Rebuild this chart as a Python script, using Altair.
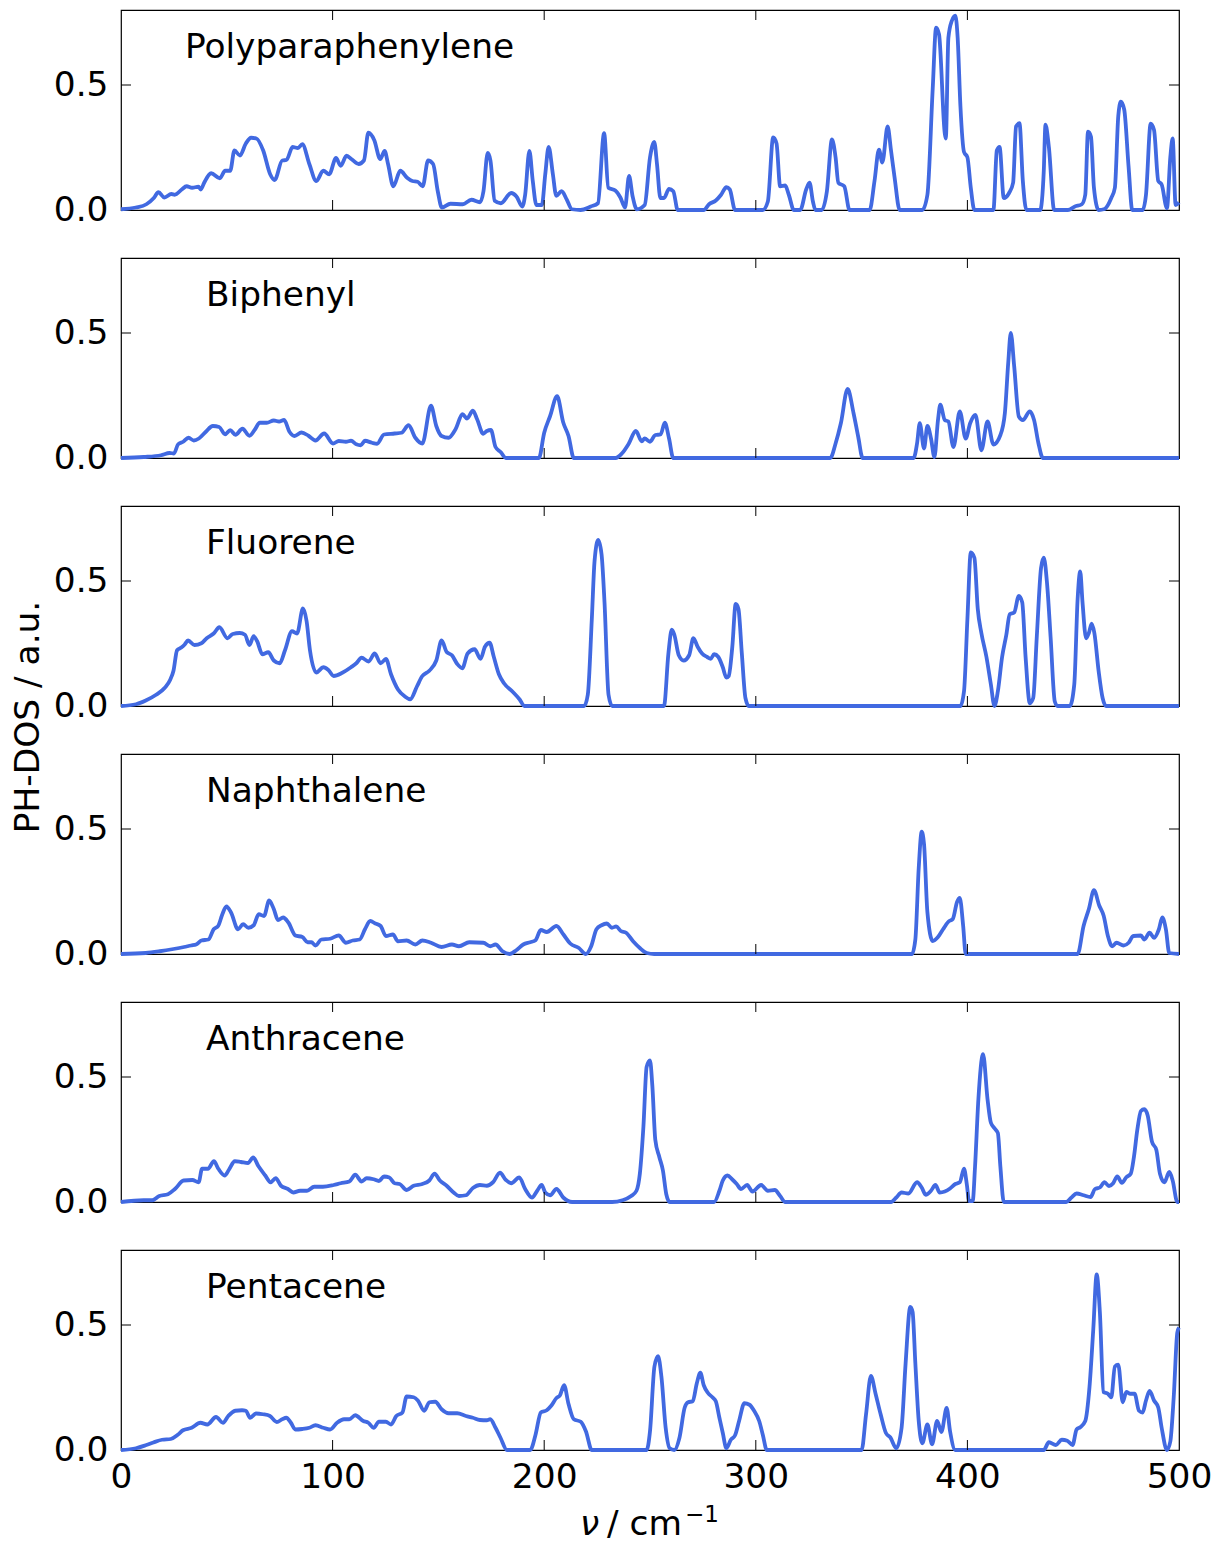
import altair as alt
import pandas as pd

# ---- data: (wavenumber, PH-DOS) ----
PPP = [(0,0.003),(7,0.01),(12,0.023),(15.5,0.048),(17.7,0.071),(20.5,0.05),(23.8,0.064),(25.4,0.061),
       (28.7,0.082),(31,0.095),(33.6,0.089),(36.6,0.093),(37.7,0.082),(39.3,0.109),(42.6,0.147),(46.7,0.127),
       (49.2,0.157),(51.6,0.157),(53.6,0.238),(56.2,0.218),(59,0.266),(61.5,0.289),(64,0.286),(67.2,0.238),
       (70.5,0.143),(72.6,0.12),(76.2,0.198),(78.2,0.2),(81.1,0.252),(83.6,0.248),(85.7,0.263),(89,0.184),
       (92.3,0.116),(95.6,0.157),(98.4,0.143),(101.6,0.208),(103.8,0.177),(106.6,0.217),(109,0.203),(112.3,0.184),
       (114.8,0.198),(116.9,0.309),(119.7,0.279),(122.5,0.204),(124.6,0.236),(126.2,0.184),(128.7,0.095),(132,0.157),
       (135.2,0.129),(137.7,0.116),(140.2,0.113),(142.6,0.095),(145.1,0.198),(147.5,0.184),(149.7,0.075),(151.6,0.01),
       (155.7,0.025),(161.5,0.023),(165.6,0.041),(169.7,0.031),(171.3,0.075),(173.3,0.228),(174.6,0.198),(176.6,0.037),
       (179.5,0.027),(184.4,0.068),(186.9,0.054),(189.7,0.014),(191,0.061),(193,0.236),(194.6,0.116),(196.3,0.02),
       (198.9,0.02),(200.5,0.143),(202.1,0.252),(204.1,0.143),(205.7,0.057),(208.2,0.075),(210.7,0.041),(213.1,0.003),
       (217.2,0),(222,0.014),(225.4,0.027),(228.3,0.307),(230.3,0.089),(233.6,0.078),(236,0.05),(238.2,0.01),
       (240.1,0.136),(241.8,0.054),(243.8,0.003),(247.5,0.02),(250,0.21),(252,0.272),(253.3,0.184),(254.9,0.048),
       (256.6,0.048),(259,0.084),(261,0.075),(263.1,0),(275.4,0),(277.9,0.023),(281.1,0.038),(283.6,0.061),
       (286.1,0.091),(287.7,0.082),(290.2,0),(303.3,0),(305.7,0.034),(308.2,0.29),(309.8,0.266),(311.5,0.095),
       (313.9,0.098),(315.6,0.061),(318,0),(321,0),(323.8,0.082),(325.4,0.109),(327,0.034),(328.2,0),
       (331.1,0),(333.6,0.075),(336,0.282),(337.7,0.211),(339,0.109),(341.8,0.095),(344.3,0),(353.8,0),
       (356.1,0.116),(358.2,0.241),(359.8,0.19),(362.3,0.334),(363.9,0.238),(365.6,0.129),(368,0),(378.7,0),
       (381.1,0.061),(383.6,0.484),(385.2,0.729),(386.6,0.702),(389.3,0.307),(389.8,0.286),(391,0.688),(392.6,0.756),
       (394.3,0.777),(395.4,0.688),(396.7,0.416),(398.4,0.232),(400,0.211),(401.6,0.089),(403.3,0),(412.3,0),
       (413.9,0.238),(415.2,0.252),(417.2,0.048),(419.7,0.068),(421.6,0.109),(423,0.334),(424.6,0.347),(426.2,0.116),
       (427.9,0),(434.4,0),(436.1,0.157),(436.9,0.341),(438.5,0.252),(441,0),(447.5,0),(450.8,0.014),
       (454.1,0.023),(455.7,0.061),(457,0.313),(458.4,0.293),(459.8,0.089),(462,0),(464.8,0.004),(468,0.048),
       (469.7,0.089),(471.3,0.375),(472.5,0.433),(474.1,0.402),(476.2,0.17),(477.9,0),(482.8,0),(484.4,0.061),
       (486.6,0.345),(488.2,0.32),(490.2,0.116),(491.8,0.102),(494.3,0.007),(495.9,0.211),(497,0.286),(498.4,0.02),
       (500,0.03)]

BIP = [(0,0),(10.7,0.004),(18.9,0.011),(23,0.02),(25,0.018),(27,0.055),(29.4,0.065),(31.9,0.081),(34.4,0.07),
       (36.8,0.078),(40.1,0.105),(43.4,0.128),(46.4,0.124),(49.2,0.095),(51.6,0.111),(54.1,0.093),(57.4,0.117),
       (60.7,0.089),(63.2,0.113),(65.6,0.141),(68.9,0.141),(72.2,0.15),(74.7,0.146),(77.1,0.152),(79.6,0.105),
       (82,0.088),(85.3,0.102),(88.6,0.089),(91.9,0.07),(96,0.098),(100.2,0.058),(102.9,0.068),(106.3,0.065),
       (108.7,0.069),(111.2,0.055),(113.3,0.051),(115.3,0.069),(118.6,0.061),(121,0.057),(124.3,0.094),(129.3,0.098),
       (132.6,0.101),(135.9,0.131),(139.1,0.081),(142.4,0.058),(146.5,0.209),(149,0.128),(151.5,0.088),(154.8,0.081),
       (158.1,0.115),(161.4,0.175),(163.5,0.158),(166.3,0.189),(168.3,0.155),(171.2,0.097),(172.9,0.108),(174.8,0.112),
       (177,0.044),(179.4,0.024),(181.9,0),(197.5,0),(200,0.101),(202.8,0.168),(206.1,0.247),(209,0.142),
       (211.5,0.088),(214,0),(233.7,0),(236.7,0.018),(240,0.058),(243.3,0.108),(246.1,0.067),(247.5,0.078),
       (250,0.065),(252.5,0.092),(255,0.094),(257,0.141),(259,0.078),(261,0),(335.2,0),(337.7,0.058),
       (340.2,0.139),(343.4,0.276),(346.2,0.179),(348.4,0.085),(350.5,0),(374.6,0),(376.2,0.058),(377.5,0.139),
       (379.5,0.038),(381.1,0.128),(382.8,0.078),(384.4,0.004),(386.1,0.152),(387.2,0.213),(389.3,0.152),(391,0.146),
       (393.4,0.044),(396.4,0.186),(399.2,0.078),(401.3,0.139),(403.8,0.172),(406.6,0.031),(409.5,0.146),(412.3,0.054),
       (415.6,0.092),(417.7,0.179),(419.3,0.381),(420.5,0.5),(422.1,0.368),(424.3,0.166),(426.2,0.152),(429.5,0.186),
       (431.5,0.152),(433.6,0.058),(435.7,0),(500,0)]

FLU = [(0,0),(7.1,0.007),(11.7,0.022),(16.6,0.045),(20.7,0.073),(23.2,0.104),(24.8,0.141),(26.5,0.223),
       (28.5,0.234),(30,0.245),(31.7,0.262),(34.7,0.244),(38,0.251),(40.5,0.271),(43.8,0.29),(46.5,0.315),
       (50.3,0.271),(52.8,0.288),(56.1,0.292),(58.6,0.285),(60.7,0.244),(62.7,0.279),(64.3,0.26),(66.8,0.207),
       (69.6,0.215),(72.2,0.182),(75,0.171),(77.5,0.223),(80.8,0.299),(83.2,0.29),(86,0.39),(87.7,0.34),
       (89.3,0.223),(92.3,0.134),(95.6,0.155),(98,0.144),(100.5,0.12),(104.6,0.133),(108.7,0.155),(111.2,0.171),
       (113.7,0.193),(117,0.178),(119.9,0.21),(122.7,0.171),(125.2,0.188),(127.6,0.127),(130.9,0.066),(134.2,0.038),
       (136.7,0.027),(139.9,0.079),(142.4,0.12),(145.7,0.141),(149,0.182),(151.5,0.262),(153.9,0.216),(156.4,0.203),
       (158.9,0.168),(161.3,0.151),(163.8,0.21),(167.1,0.227),(169.9,0.189),(172,0.237),(174.2,0.253),(176.2,0.196),
       (178.6,0.127),(181.1,0.09),(185.2,0.056),(188.5,0.025),(190.6,0),(218.9,0),(220.6,0.045),(222.5,0.347),
       (223.8,0.58),(225.5,0.664),(227.1,0.607),(228.5,0.415),(230.4,0.045),(232.1,0),(256.6,0),(258.7,0.21),
       (260.3,0.305),(261.5,0.285),(263.6,0.203),(265.9,0.182),(268.5,0.203),(270.5,0.271),(272.5,0.237),(274.6,0.21),
       (277,0.196),(278.7,0.189),(280.3,0.207),(282.3,0.196),(284.4,0.155),(286.1,0.114),(287.2,0.12),(288.9,0.237),
       (290.5,0.408),(291.8,0.388),(293.4,0.21),(295.1,0.032),(296.7,0),(396.7,0),(398.4,0.059),(400,0.347),
       (401.6,0.614),(403.3,0.593),(404.9,0.388),(406.6,0.292),(409,0.196),(411.1,0.086),(412.8,0),(414.4,0.059),
       (416.4,0.196),(418.4,0.285),(420,0.367),(422.1,0.374),(424.3,0.44),(425.9,0.415),(427.5,0.196),(429.5,0.011),
       (431.1,0.032),(432.8,0.278),(434.8,0.552),(436.1,0.593),(437.7,0.484),(439.3,0.278),(441.3,0.018),(442.6,0),
       (448.4,0),(450.5,0.086),(452.1,0.429),(453.3,0.538),(454.4,0.415),(456.1,0.271),(457.4,0.292),(458.7,0.329),
       (460,0.292),(462,0.141),(463.9,0.032),(465.6,0),(500,0)]

NAP = [(0,0),(11.7,0.004),(18.3,0.011),(24.8,0.02),(29.8,0.028),(33.1,0.034),(35.5,0.038),(38,0.054),
       (41.3,0.058),(43.8,0.099),(45.9,0.112),(47.9,0.159),(49.8,0.19),(52,0.166),(55.3,0.099),(57.7,0.119),
       (60.2,0.105),(62.7,0.115),(65.1,0.159),(67.6,0.152),(70,0.214),(72.2,0.18),(74.2,0.136),(76.6,0.146),
       (79.1,0.126),(82.4,0.074),(85.7,0.068),(88.2,0.047),(90,0.047),(91.9,0.034),(94.7,0.058),(98.8,0.061),
       (102.9,0.074),(106.3,0.045),(109.5,0.054),(112.8,0.058),(115.3,0.099),(117.8,0.132),(120.2,0.122),(122.7,0.112),
       (125.2,0.072),(128.5,0.078),(130.9,0.051),(135,0.054),(139.1,0.038),(142.4,0.054),(146.5,0.045),(151.5,0.028),
       (156.4,0.038),(159.7,0.031),(164.6,0.047),(171.2,0.045),(174.5,0.031),(177,0.038),(180.3,0.011),(183.6,0),
       (186.8,0.015),(190.1,0.038),(193.4,0.047),(195.9,0.055),(198.4,0.096),(201.2,0.088),(205.8,0.112),(209.1,0.078),
       (212.3,0.042),(216.4,0.024),(219.7,0),(222.2,0.031),(224.7,0.099),(227.1,0.115),(229.6,0.122),(232,0.105),
       (234,0.11),(236.2,0.092),(238.7,0.085),(242,0.051),(245.2,0.024),(248.5,0.004),(252,0),(373.8,0),
       (375.4,0.058),(377,0.344),(378.4,0.489),(379.5,0.44),(381.1,0.167),(383.6,0.052),(386.1,0.068),(388.5,0.099),
       (391,0.129),(393.1,0.14),(395.1,0.208),(396.4,0.224),(398,0.112),(399.2,0),(452.1,0),(454.9,0.112),
       (457.4,0.18),(459.8,0.255),(462.3,0.194),(464.4,0.153),(466.4,0.072),(468.4,0.031),(470.5,0.045),(473.8,0.034),
       (476.2,0.045),(478.4,0.072),(482,0.074),(483.6,0.058),(486.1,0.085),(488.2,0.065),(490.5,0.099),(492.1,0.146),
       (493.8,0.099),(495.4,0.004),(500,0)]

ANT = [(0,0),(10.7,0.007),(14.8,0.007),(18.1,0.024),(22.2,0.031),(25.5,0.052),(29.6,0.086),(33.7,0.088),
       (36.7,0.079),(38.3,0.133),(41.1,0.133),(43.9,0.163),(46,0.133),(49,0.106),(51,0.129),(53.8,0.163),
       (56.7,0.16),(60,0.156),(62.5,0.178),(64.9,0.144),(68.2,0.106),(70.7,0.079),(73.1,0.095),(75.6,0.065),
       (78.9,0.052),(81.4,0.038),(84.6,0.045),(87.9,0.045),(91.3,0.061),(95.4,0.061),(100.5,0.068),(103.8,0.075),
       (107.9,0.082),(110.7,0.109),(113.7,0.082),(116.1,0.095),(119.4,0.091),(121.9,0.084),(124.3,0.102),(126.8,0.098),
       (129.3,0.075),(131.7,0.072),(135,0.048),(138.3,0.065),(142.4,0.072),(145.7,0.086),(148.2,0.113),(150.7,0.086),
       (153.9,0.065),(157.2,0.038),(159.7,0.024),(163,0.027),(166.3,0.056),(169.6,0.068),(172.9,0.065),(175.8,0.079),
       (179.1,0.117),(181.9,0.088),(184.4,0.075),(188.2,0.098),(191,0.052),(194.2,0.018),(196.7,0.045),(198.8,0.068),
       (200.5,0.038),(202.8,0.027),(205.8,0.052),(209,0.018),(213.2,0),(232.1,0),(237,0.007),(241.1,0.024),
       (243.6,0.045),(245.2,0.113),(246.9,0.303),(248.4,0.54),(250,0.566),(251.1,0.466),(252.5,0.249),(254.4,0.18),
       (256.1,0.126),(257.7,0.031),(259.3,0),(280.3,0),(282.8,0.045),(284.4,0.086),(286.6,0.106),(288.9,0.09),
       (291,0.072),(293,0.052),(295.9,0.068),(298.4,0.042),(302.5,0.068),(305.7,0.045),(309,0.048),(311.5,0.024),
       (313.9,0),(363.9,0),(366.4,0.018),(368.9,0.038),(372.1,0.034),(376.2,0.079),(378.4,0.058),(380.3,0.029),
       (382.8,0.045),(384.9,0.068),(386.9,0.038),(389.3,0.042),(391.8,0.054),(394.3,0.072),(396.4,0.079),(398.4,0.133),
       (399.7,0.072),(400.8,0.004),(402.5,0.004),(403.6,0.14),(405.2,0.412),(407.4,0.591),(409.5,0.412),(411.1,0.317),
       (413.1,0.292),(414.4,0.276),(415.6,0.14),(417.2,0),(446.7,0),(449.2,0.018),(451.6,0.034),(454.9,0.027),
       (458.2,0.02),(460.3,0.052),(462.6,0.058),(464.8,0.079),(466.9,0.064),(468.9,0.075),(470.8,0.102),(473,0.077),
       (475.1,0.099),(477.2,0.113),(478.7,0.18),(480.3,0.289),(482,0.364),(483.6,0.371),(485.2,0.346),(487.2,0.242),
       (489.3,0.208),(491,0.113),(493.1,0.079),(495.4,0.12),(497,0.086),(499.2,0),(500,0)]

PEN = [(0,0),(7.1,0.007),(12,0.02),(15.3,0.03),(19.4,0.041),(23.5,0.044),(26.8,0.061),(29.3,0.079),
       (33.4,0.089),(37.5,0.109),(40.8,0.102),(44.9,0.132),(48.2,0.109),(50.7,0.136),(54,0.157),(57.2,0.159),
       (59,0.157),(61,0.129),(63.8,0.146),(67.1,0.143),(70.4,0.136),(73.6,0.112),(76.2,0.123),(78.1,0.129),
       (80.3,0.109),(82.4,0.082),(85.7,0.084),(89,0.089),(91.9,0.099),(95.6,0.089),(98.8,0.082),(102.1,0.109),
       (105.4,0.123),(107.9,0.123),(110.7,0.139),(114.5,0.116),(116.9,0.109),(119.4,0.089),(121.9,0.113),(125.2,0.113),
       (127.6,0.102),(130.1,0.136),(133,0.15),(135,0.214),(138.3,0.211),(140.3,0.198),(143.3,0.157),(145.7,0.191),
       (148.5,0.193),(151.5,0.163),(154.8,0.147),(158.9,0.147),(163,0.136),(166.3,0.129),(169.6,0.12),(172.9,0.119),
       (174.5,0.123),(177,0.089),(179.4,0.048),(182.4,0),(193.4,0),(195.9,0.061),(198.4,0.15),(201.2,0.159),
       (203.3,0.177),(205.8,0.208),(207.4,0.218),(209.4,0.259),(211.5,0.184),(214,0.123),(217.3,0.113),(219.7,0.075),
       (222.5,0),(248.4,0),(250,0.075),(252.1,0.334),(253.8,0.375),(255.4,0.293),(257.4,0.089),(259.3,0.007),
       (261.5,0),(263.9,0.048),(266.4,0.17),(268,0.191),(270.2,0.195),(272.1,0.266),(273.8,0.309),(275.4,0.259),
       (277.4,0.228),(279.5,0.211),(281.1,0.195),(282.8,0.129),(284.4,0.068),(286.1,0.007),(288.2,0.041),(290.2,0.059),
       (292.1,0.116),(294.6,0.187),(297,0.181),(299.2,0.157),(301.6,0.116),(303.3,0.061),(305.2,0),(350,0),
       (352.1,0.143),(354.4,0.296),(356.6,0.225),(359,0.143),(361.5,0.068),(363.6,0.05),(366.4,0.007),(368.9,0.089),
       (370.8,0.347),(373,0.572),(374.1,0.552),(375.4,0.347),(377,0.116),(378.7,0.027),(381.1,0.102),(383.3,0.023),
       (385.7,0.116),(387.7,0.072),(390.2,0.168),(391.8,0.075),(394.3,0),(436.1,0),(438.5,0.031),(441.8,0.02),
       (444.6,0.041),(447.2,0.037),(449.7,0.02),(451.6,0.082),(453.3,0.091),(455.7,0.116),(457.7,0.252),(459.5,0.484),
       (461.1,0.702),(462.6,0.552),(464.3,0.232),(466.4,0.225),(468,0.211),(469.7,0.334),(471.3,0.341),(473.4,0.191),
       (475.1,0.232),(477,0.225),(479,0.225),(481.1,0.157),(482.8,0.15),(484.4,0.198),(486.1,0.236),(488.2,0.198),
       (490.2,0.17),(491.8,0.089),(494.3,0),(495.9,0.034),(497.5,0.211),(499.2,0.47),(500,0.49)]

NAMES = ["Polyparaphenylene", "Biphenyl", "Fluorene", "Naphthalene", "Anthracene", "Pentacene"]
SERIES = [PPP, BIP, FLU, NAP, ANT, PEN]
X_TICKS = [100, 200, 300, 400]
X_LABELS = [0, 100, 200, 300, 400, 500]
Y_TICKS = [0.5]
Y_LABELS = [0.0, 0.5]
Y_TITLE = "PH-DOS / a.u."

# ---- style ----
W, H = 1058, 200
BLUE = "#4169E1"
FONT = "DejaVu Sans"
FS = 34.4
TICK = 10
NAME_X = [64, 85, 85, 85, 85, 85]

xs = alt.Scale(domain=[0, 500], nice=False, zero=False)
ys = alt.Scale(domain=[0, 0.8], nice=False, zero=False)

YAXIS = alt.Axis(values=Y_LABELS, format=".1f", ticks=False, domain=False, grid=False,
                 labelPadding=13, labelFontSize=FS, labelFont=FONT, labelColor="black",
                 labelFlush=False, title=None)
XAXIS = alt.Axis(values=X_LABELS, format="d", ticks=False, domain=False, grid=False,
                 labelPadding=10, labelFontSize=FS, labelFont=FONT, labelColor="black",
                 labelFlush=False, labelOverlap=False, title=None)


def panel(i):
    df = pd.DataFrame(SERIES[i], columns=["nu", "dos"])
    last = i == len(SERIES) - 1
    xaxis = XAXIS if last else None
    line = alt.Chart(df).mark_line(color=BLUE, strokeWidth=3.8, interpolate="monotone").encode(
        x=alt.X("nu:Q", scale=xs, axis=xaxis),
        y=alt.Y("dos:Q", scale=ys, axis=YAXIS),
    )
    xt = pd.DataFrame({"nu": X_TICKS})
    yt = pd.DataFrame({"dos": Y_TICKS})
    tick_b = alt.Chart(xt).mark_rule(color="black", strokeWidth=1).encode(
        x=alt.X("nu:Q", scale=xs, axis=xaxis), y=alt.value(H), y2=alt.value(H - TICK))
    tick_t = alt.Chart(xt).mark_rule(color="black", strokeWidth=1).encode(
        x=alt.X("nu:Q", scale=xs, axis=xaxis), y=alt.value(0), y2=alt.value(TICK))
    tick_l = alt.Chart(yt).mark_rule(color="black", strokeWidth=1).encode(
        y=alt.Y("dos:Q", scale=ys, axis=YAXIS), x=alt.value(0), x2=alt.value(TICK))
    tick_r = alt.Chart(yt).mark_rule(color="black", strokeWidth=1).encode(
        y=alt.Y("dos:Q", scale=ys, axis=YAXIS), x=alt.value(W - TICK), x2=alt.value(W))
    name = alt.Chart(pd.DataFrame({"name": [NAMES[i]]})).mark_text(
        align="left", baseline="middle", font=FONT, fontSize=FS, color="black").encode(
        x=alt.value(NAME_X[i]), y=alt.value(38), text="name:N")
    layers = [line, tick_b, tick_t, tick_l, tick_r, name]
    if i == 0:
        anchor = alt.Chart(pd.DataFrame({"a": [0]})).mark_rule(color="white", strokeWidth=1).encode(
            x=alt.value(-119.5), x2=alt.value(-119.5), y=alt.value(-8.5), y2=alt.value(-7.5))
        layers.append(anchor)
    if i == 2:
        ytitle = alt.Chart(pd.DataFrame({"t": [Y_TITLE]})).mark_text(
            angle=270, align="center", baseline="middle", font=FONT, fontSize=FS, color="black").encode(
            x=alt.value(-92), y=alt.value(211), text="t:N")
        layers.append(ytitle)
    if last:
        t1 = alt.Chart(pd.DataFrame({"t": ["ν"]})).mark_text(
            align="left", baseline="alphabetic", font=FONT, fontSize=FS, fontStyle="italic",
            color="black").encode(x=alt.value(459), y=alt.value(285), text="t:N")
        t2 = alt.Chart(pd.DataFrame({"t": ["/ cm"]})).mark_text(
            align="left", baseline="alphabetic", font=FONT, fontSize=FS,
            color="black").encode(x=alt.value(486), y=alt.value(285), text="t:N")
        t3 = alt.Chart(pd.DataFrame({"t": ["\u22121"]})).mark_text(
            align="left", baseline="alphabetic", font=FONT, fontSize=23,
            color="black").encode(x=alt.value(564), y=alt.value(272), text="t:N")
        layers += [t1, t2, t3]
    return alt.layer(*layers).properties(width=W, height=H)


chart = alt.vconcat(*[panel(i) for i in range(len(SERIES))], spacing=48, bounds="flush").properties(
    padding={"left": 0, "top": 0, "right": 0, "bottom": 0},
    background="white",
).configure_view(stroke="black", strokeWidth=1.2)

chart.save("out.html", embed_options={"renderer": "svg", "actions": False})
